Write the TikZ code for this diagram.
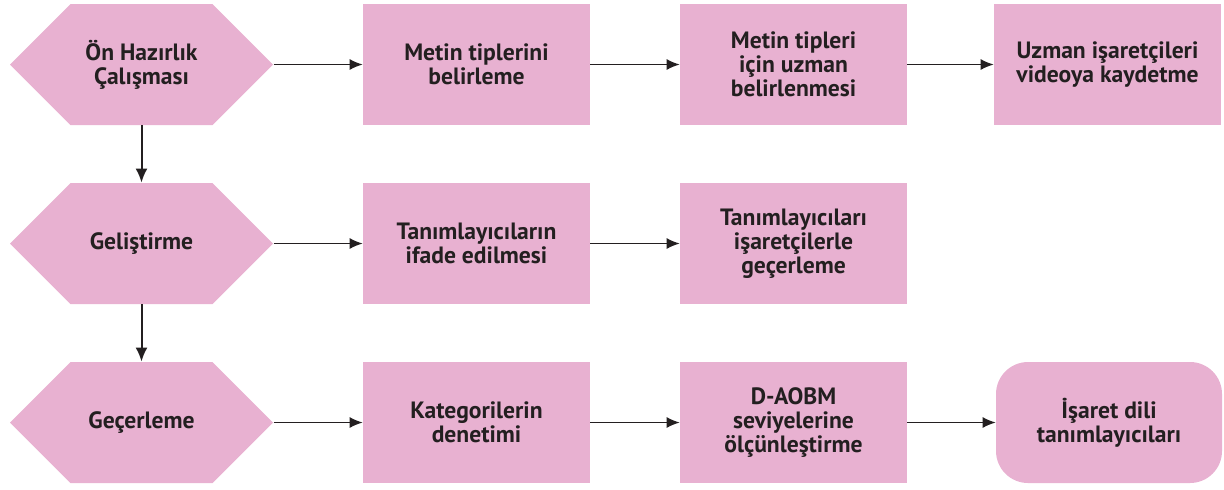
\documentclass[tikz,border=0pt]{standalone}
\usepackage{fontspec}
\setmainfont{PT Sans}
\usepackage{xcolor}
\usetikzlibrary{shapes.symbols,arrows.meta}

\definecolor{kutu}{HTML}{E8B1D1}
\definecolor{yazi}{HTML}{231F20}

\tikzset{
	evre/.style={signal, signal to=east and west, fill=kutu, minimum width=131.5pt, minimum height=60.5pt, inner sep=0pt, text=yazi, font=\bfseries\fontsize{11.8}{11.9}\selectfont, align=center},
	adim/.style={rectangle, fill=kutu, minimum width=113.5pt, minimum height=60.5pt, inner sep=0pt, text=yazi, font=\bfseries\fontsize{11.8}{11.9}\selectfont, align=center},
	son/.style={adim, rounded corners=16pt, minimum width=113pt},
	ok/.style={draw=yazi, line width=0.6pt, -{Latex[length=6.5pt,width=5.5pt]}},
	akis/.style={draw=yazi, line width=1pt, -{Latex[length=7pt,width=6pt]}}
}

\begin{document}
\begin{tikzpicture}[x=0.5pt,y=-0.5pt]
	\useasboundingbox (0,0) rectangle (1224,489);
	
	\node[evre] (hazirlik) at (141.5,64.5) {Ön Hazırlık\\Çalışması};
	\node[evre] (gelistirme) at (141.5,243.5) {Geliştirme};
	\node[evre] (gecerleme) at (141.5,422.5) {Geçerleme};
	
	\node[adim] (tipler) at (476.5,64.5) {Metin tiplerini\\belirleme};
	\node[adim] (uzman) at (793.5,64.5) {Metin tipleri\\için uzman\\belirlenmesi};
	\node[adim] (kayit) at (1107.5,64.5) {Uzman işaretçileri\\videoya kaydetme};
	
	\node[adim] (ifade) at (476.5,243.5) {Tanımlayıcıların\\ifade edilmesi};
	\node[adim] (gecer) at (793.5,243.5) {Tanımlayıcıları\\işaretçilerle\\geçerleme};
	
	\node[adim] (kategori) at (476.5,422.5) {Kategorilerin\\denetimi};
	\node[adim] (olcek) at (793.5,422.5) {D-AOBM\\seviyelerine\\ölçünleştirme};
	\node[son] (sonuc) at (1109,422.5) {İşaret dili\\tanımlayıcıları};
	
	% yatay oklar
	\draw[ok] (hazirlik.east) -- (tipler.west);
	\draw[ok] (tipler.east) -- (uzman.west);
	\draw[ok] (uzman.east) -- (kayit.west);
	\draw[ok] (gelistirme.east) -- (ifade.west);
	\draw[ok] (ifade.east) -- (gecer.west);
	\draw[ok] (gecerleme.east) -- (kategori.west);
	\draw[ok] (kategori.east) -- (olcek.west);
	\draw[ok] (olcek.east) -- (sonuc.west);
	
	% dikey oklar
	\draw[akis] (hazirlik.south) -- (gelistirme.north);
	\draw[akis] (gelistirme.south) -- (gecerleme.north);
\end{tikzpicture}
\end{document}
